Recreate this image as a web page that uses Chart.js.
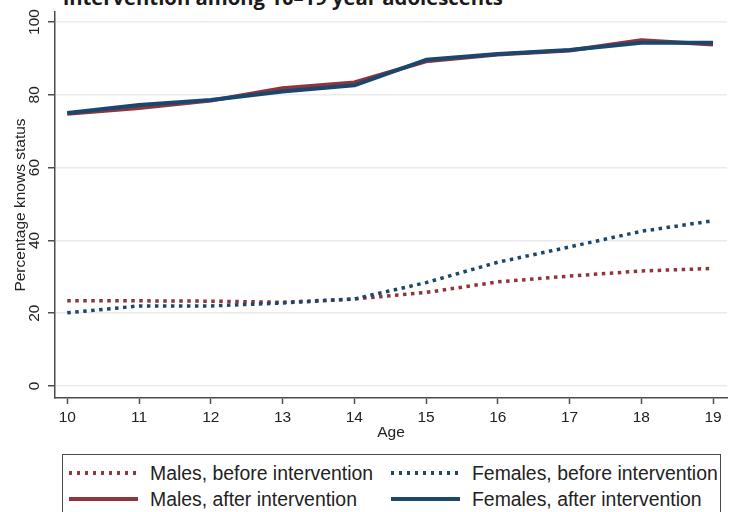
<!DOCTYPE html>
<html>
<head>
<meta charset="utf-8">
<script src="https://cdn.jsdelivr.net/npm/chart.js@4/dist/chart.umd.min.js"></script>
<style>
  html, body { margin: 0; padding: 0; background: #fff; }
  body { width: 736px; height: 512px; overflow: hidden; position: relative;
         font-family: "Liberation Sans", Arial, sans-serif; }
  #title { position: absolute; left: 63px; top: -13px; white-space: nowrap;
           font: bold 20.3px "Open Sans", "Noto Sans", sans-serif; line-height: 21px; color: #1a1a1a; }
  #wrap { position: absolute; left: 0; top: 0; width: 736px; height: 450px; }
  #legend { position: absolute; left: 62px; top: 454px; width: 659px; height: 80px;
            border: 1.5px solid #4a4a4a; background: #fff; box-sizing: border-box;
            display: grid; grid-template-columns: 322px auto; grid-auto-rows: 26px;
            padding: 5px 0 0 6px; }
  .item { display: flex; align-items: center; font-size: 19.4px; color: #222; white-space: nowrap; }
  .sample { width: 69px; margin-right: 12px; flex: none; }
</style>
</head>
<body>
<div id="title">intervention among 10–19 year adolescents</div>
<div id="wrap"><canvas id="c"></canvas></div>
<div id="legend"></div>
<script>
// Age in years (x axis)
const ages = [10, 11, 12, 13, 14, 15, 16, 17, 18, 19];
// Percentage who know their status, by sex and period
const malesBefore   = [23.4, 23.4, 23.3, 23.0, 23.9, 25.7, 28.6, 30.2, 31.6, 32.3];
const femalesBefore = [20.1, 22.0, 22.0, 22.8, 23.9, 28.4, 34.0, 38.2, 42.5, 45.4];
const malesAfter    = [74.8, 76.4, 78.4, 81.8, 83.4, 89.2, 91.1, 92.2, 95.0, 93.8];
const femalesAfter  = [75.0, 77.2, 78.6, 80.9, 82.6, 89.6, 91.2, 92.3, 94.3, 94.3];
// Axis tick values
const yTicks = [0, 20, 40, 60, 80, 100];
const xTicks = ages;

const MAROON = '#90353b';
const NAVY = '#1a476f';
const AXIS = '#4d4d4d';
const TEXT = '#222222';
const tickFont = { family: '"Liberation Sans", Arial, sans-serif', size: 15.5 };

const pts = vals => ages.map((a, i) => ({ x: a, y: vals[i] }));

const datasets = [
  { label: 'Males, before intervention', data: pts(malesBefore), borderColor: MAROON,
    borderWidth: 3.5, borderDash: [3.5, 4.5], order: 4 },
  { label: 'Females, before intervention', data: pts(femalesBefore), borderColor: NAVY,
    borderWidth: 3.5, borderDash: [3.5, 4.5], order: 3 },
  { label: 'Males, after intervention', data: pts(malesAfter), borderColor: MAROON,
    borderWidth: 4, order: 2 },
  { label: 'Females, after intervention', data: pts(femalesAfter), borderColor: NAVY,
    borderWidth: 4, order: 1 }
].map(d => Object.assign({ pointRadius: 0, tension: 0, fill: false,
  borderCapStyle: 'butt', borderJoinStyle: 'round' }, d));

const chart = new Chart(document.getElementById('c'), {
  type: 'line',
  data: { datasets },
  options: {
    responsive: true,
    maintainAspectRatio: false,
    animation: false,
    devicePixelRatio: 1,
    events: [],
    layout: { padding: { top: 12, right: 9, left: 0, bottom: 0 } },
    plugins: { legend: { display: false }, tooltip: { enabled: false } },
    scales: {
      x: {
        type: 'linear', min: 9.829, max: 19.195,
        afterBuildTicks: s => { s.ticks = xTicks.map(v => ({ value: v })); },
        afterFit: s => { s.height = 52; },
        ticks: { font: tickFont, color: TEXT, padding: 4, maxRotation: 0, autoSkip: false,
                 callback: v => String(v) },
        grid: { drawOnChartArea: false, tickLength: 6, tickColor: AXIS, tickWidth: 1.5 },
        border: { color: AXIS, width: 1.5 },
        title: { display: true, text: 'Age', font: tickFont, color: TEXT,
                 padding: { top: 0, bottom: 8 } }
      },
      y: {
        type: 'linear', min: -3.3, max: 102.75,
        afterBuildTicks: s => { s.ticks = yTicks.map(v => ({ value: v })); },
        afterFit: s => { s.width = 55; },
        ticks: { font: tickFont, color: TEXT, padding: 0, minRotation: 90, maxRotation: 90,
                 crossAlign: 'center', callback: v => String(v) },
        grid: { color: '#ebebeb', lineWidth: 1.5, tickLength: 7, tickColor: AXIS, tickWidth: 1.5 },
        border: { color: AXIS, width: 1.5 },
        title: { display: true, text: 'Percentage knows status', font: tickFont, color: TEXT,
                 padding: { top: 11, bottom: 0 } }
      }
    }
  }
});

// Legend built from the chart's datasets, two columns
const legendEl = document.getElementById('legend');
chart.data.datasets.forEach(ds => {
  const item = document.createElement('div');
  item.className = 'item';
  const sample = document.createElement('span');
  sample.className = 'sample';
  const w = ds.borderWidth;
  sample.style.height = w + 'px';
  if (ds.borderDash) {
    const [on, off] = ds.borderDash;
    sample.style.background = `repeating-linear-gradient(to right, ${ds.borderColor} 0 ${on}px, transparent ${on}px ${on + off}px)`;
  } else {
    sample.style.background = ds.borderColor;
  }
  const txt = document.createElement('span');
  txt.textContent = ds.label;
  item.appendChild(sample);
  item.appendChild(txt);
  legendEl.appendChild(item);
});
</script>
</body>
</html>
